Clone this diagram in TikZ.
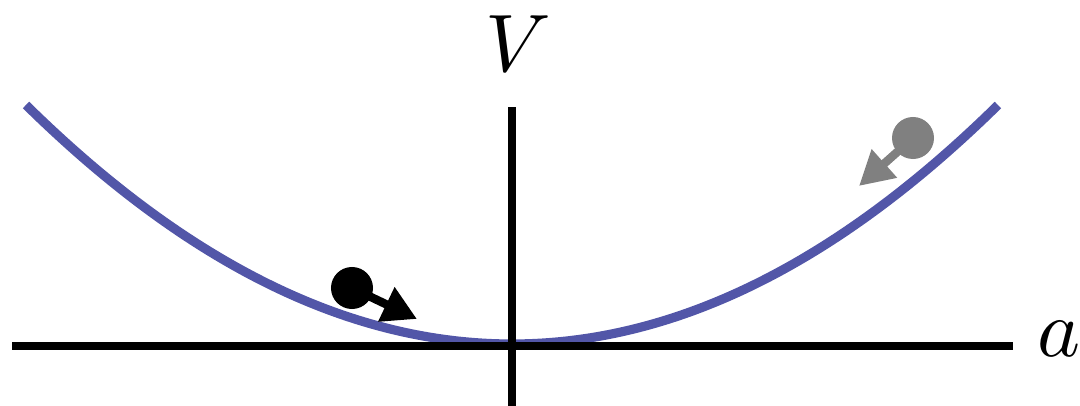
\documentclass[tikz,border=0pt]{standalone}
\usepackage{xcolor}
\usepackage{tikz}
\usetikzlibrary{arrows.meta, positioning}
\definecolor{wellblue}{RGB}{82, 86, 168}
\definecolor{ballgray}{RGB}{128, 128, 128}
\newcommand{\biglab}[1]{\scalebox{5.8}{$#1$}}

\begin{document}
\begin{tikzpicture}[
    x=0.025cm, y=-0.025cm,
    axis/.style={line width=5pt, black},
    well/.style={line width=6.5pt, wellblue},
    ball/.style={circle, inner sep=0pt, minimum size=1.05cm},
    push/.style={line width=6pt, -{Triangle[length=0.85cm, width=0.9cm]}},
    lab/.style={inner sep=0pt}
]
    \useasboundingbox (0,0) rectangle (1080,406);

    \coordinate (origin) at (512,346);
    \coordinate (xend) at (1013,346);
    \coordinate (xstart) at (12,346);
    \coordinate (ytop) at (512,107);
    \coordinate (ybot) at (512,406);

    \draw[well] plot[domain=-4.86:4.86, samples=80, smooth] ({512+100*\x}, {344-10.12*\x*\x});

    \draw[axis] (xstart) -- (xend);
    \draw[axis] (ybot) -- (ytop);
    \node[lab, anchor=base] (vlab) at (518,72) {\biglab{V}};
    \node[lab, anchor=base west] (alab) at (1037,357) {\biglab{a}};

    \node[ball, fill=black] (left) at (352,288) {};
    \coordinate (lefttip) at (417,319);
    \draw[push, black] (left.center) -- (lefttip);

    \node[ball, fill=ballgray] (right) at (913,138) {};
    \coordinate (righttip) at (859,186);
    \draw[push, ballgray] (right.center) -- (righttip);
\end{tikzpicture}
\end{document}
